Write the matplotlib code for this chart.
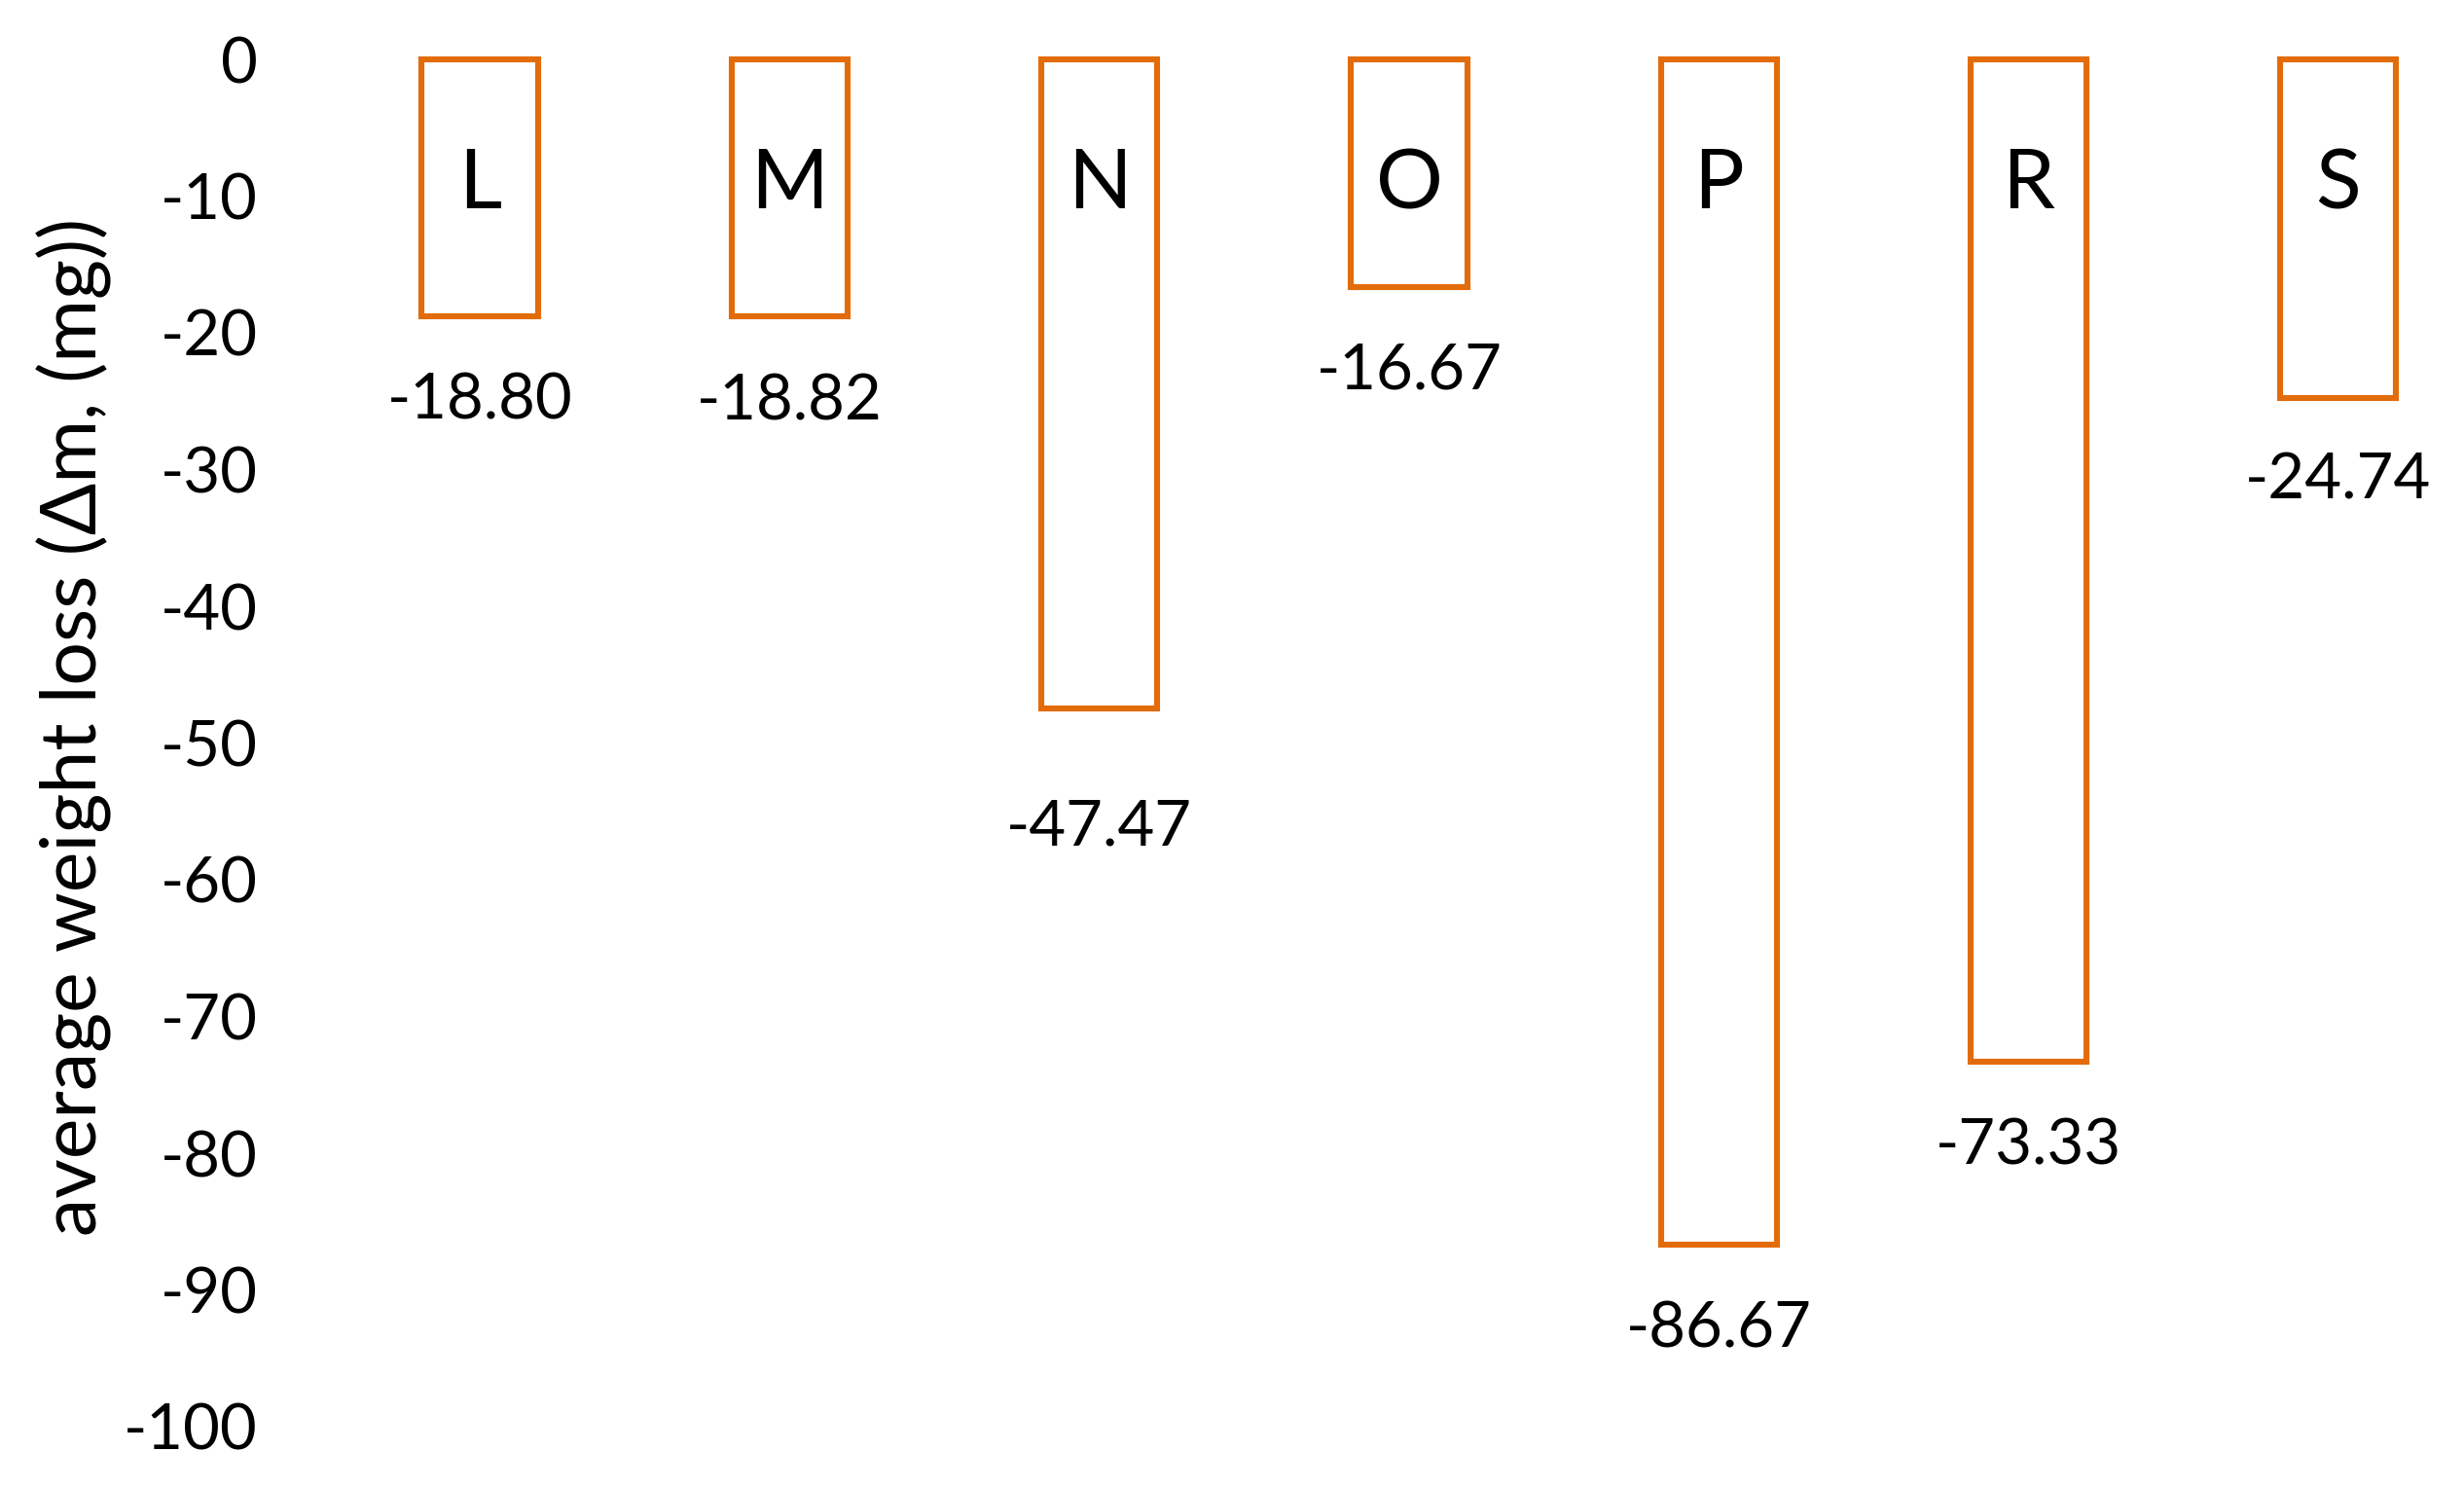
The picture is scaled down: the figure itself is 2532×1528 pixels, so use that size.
import matplotlib.pyplot as plt
import numpy as np

plt.rcParams['font.family'] = ['Lato', 'DejaVu Sans']
plt.rcParams['axes.unicode_minus'] = False

samples = ['L', 'M', 'N', 'O', 'P', 'R', 'S']
weight_loss = [-18.80, -18.82, -47.47, -16.67, -86.67, -73.33, -24.74]
label_gap = [6.2, 6.2, 8.7, 6.1, 6.2, 6.2, 6.1]
yticks = list(range(0, -101, -10))

fig = plt.figure(figsize=(12.66, 7.64), dpi=200)
ax = fig.add_axes([334 / 2532, 62 / 1528, 1 - 334 / 2532, (1466 - 61) / 1528])

x = np.arange(len(samples))
bars = ax.bar(x, weight_loss, width=0.375, facecolor='white',
              edgecolor='#E36C0A', linewidth=2.2)
for b in bars:
    b.set_clip_on(False)

# letters inside bars, values below
for xi, name, v, g in zip(x, samples, weight_loss, label_gap):
    ax.text(xi, -9.2, name, ha='center', va='center', fontsize=31)
    ax.text(xi, v - g, '%.2f' % v, ha='center', va='center', fontsize=23.5)

ax.set_xlim(-0.5, 6.406)
ax.set_ylim(-100, 0)
ax.set_yticks(yticks)
ax.set_yticklabels([str(t) for t in yticks], fontsize=23.5)
ax.tick_params(axis='y', length=0, pad=25)
ax.set_xticks([])
for s in ax.spines.values():
    s.set_visible(False)

ax.set_ylabel('average weight loss (Δm, (mg))', fontsize=28.4)
ax.yaxis.set_label_coords(-(334 - 115) / (2532 - 334), 0.512)

fig.savefig('out.png', dpi=200)
